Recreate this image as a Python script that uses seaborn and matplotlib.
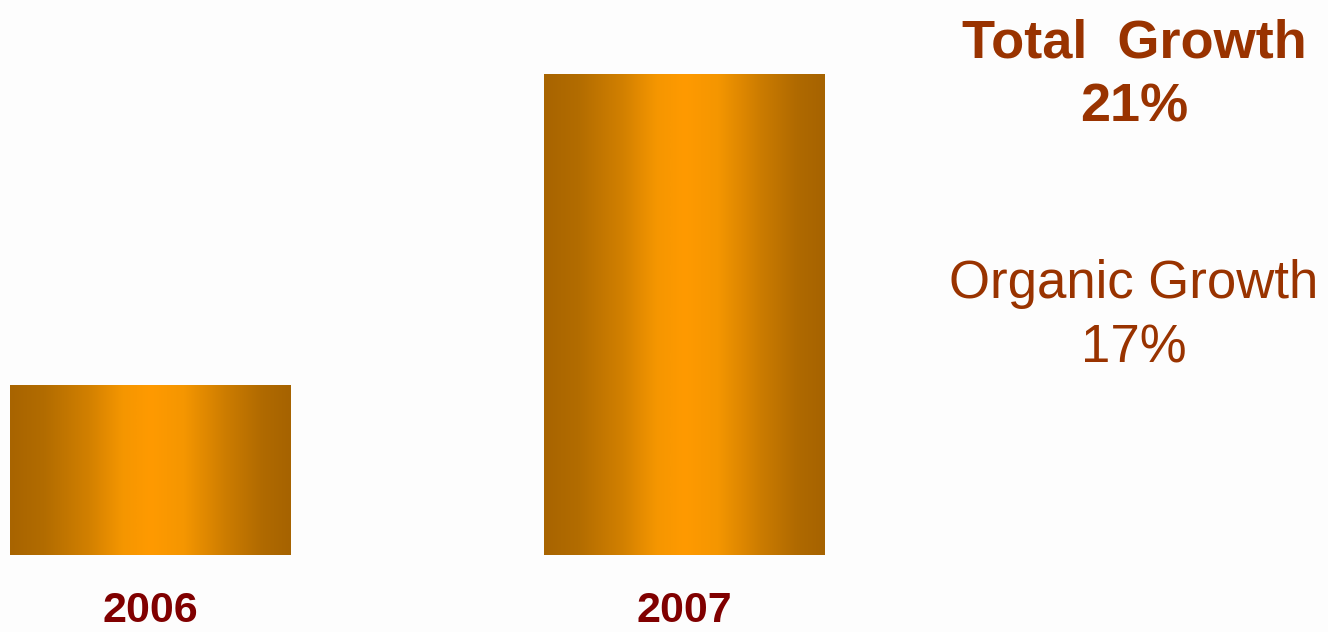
import numpy as np
import pandas as pd
import matplotlib
matplotlib.use("Agg")
import matplotlib.pyplot as plt
from matplotlib.colors import LinearSegmentedColormap
import seaborn as sns

# Data
years = ["2006", "2007"]
values = [170, 481]          # relative bar heights
total_growth = "21%"
organic_growth = "17%"

sns.set_theme(style="white")
plt.rcParams['font.family'] = ['Liberation Sans', 'DejaVu Sans']

W, H = 1328, 632
fig = plt.figure(figsize=(W / 100, H / 100), dpi=100)
fig.patch.set_facecolor("#FDFDFD")

ax = fig.add_axes([0, 77 / H, 1, 1 - 77 / H])
ax.set_facecolor("none")

df = pd.DataFrame({"year": years, "value": values})
sns.barplot(data=df, x="year", y="value", ax=ax, width=281 / 534,
            color="#F09000", edgecolor="none", saturation=1)

# gradient fill clipped to each bar
cmap = LinearSegmentedColormap.from_list(
    "bar", [(0.0, "#A86400"), (0.12, "#B26C00"), (0.28, "#D28000"),
            (0.40, "#F59600"), (0.50, "#FF9A00"), (0.62, "#F59600"),
            (0.77, "#CC7C00"), (0.9, "#B06A00"), (1.0, "#A66300")])
grad = np.linspace(0, 1, 256).reshape(1, -1)
for p in list(ax.patches):
    x0, y0 = p.get_x(), p.get_y()
    w, h = p.get_width(), p.get_height()
    im = ax.imshow(grad, cmap=cmap, aspect="auto", extent=[x0, x0 + w, y0, y0 + h],
                   interpolation="bicubic", zorder=p.get_zorder() + 0.1)
    im.set_clip_path(p)
ax.set_xlim(-150.5 / 534, (W - 150.5) / 534)
ax.set_ylim(0, 555)

for s in ax.spines.values():
    s.set_visible(False)
ax.set_yticks([])
ax.set_xlabel("")
ax.set_ylabel("")
ax.tick_params(axis="x", length=0, pad=26)
for lab in ax.get_xticklabels():
    lab.set_fontsize(31)
    lab.set_fontweight("bold")
    lab.set_color("#800000")

txt_color = "#993300"
cx = 1134 / W
fig.text(cx, 1 - 57 / H, "Total  Growth", ha="center", va="baseline",
         fontsize=39, fontweight="bold", color=txt_color)
fig.text(cx, 1 - 122 / H, total_growth, ha="center", va="baseline",
         fontsize=39, fontweight="bold", color=txt_color)
fig.text(cx, 1 - 298 / H, "Organic Growth", ha="center", va="baseline",
         fontsize=38, color=txt_color)
fig.text(cx, 1 - 362 / H, organic_growth, ha="center", va="baseline",
         fontsize=38, color=txt_color)

fig.savefig("out.png", dpi=100, facecolor=fig.get_facecolor())
